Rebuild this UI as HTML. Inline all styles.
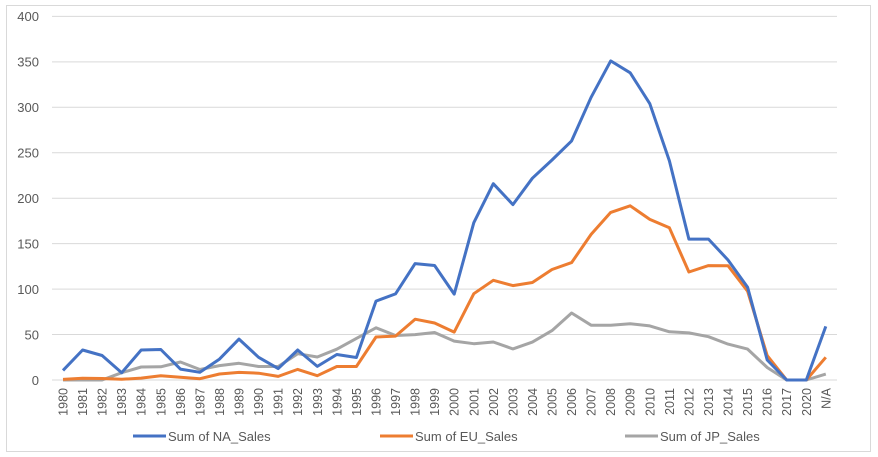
<!DOCTYPE html>
<html><head><meta charset="utf-8"><style>
body{margin:0;background:#fff;}
svg{display:block;font-family:"Liberation Sans",sans-serif;}
</style></head><body>
<svg id="c" width="878" height="457" viewBox="0 0 878 457" xmlns="http://www.w3.org/2000/svg">
<rect x="6.5" y="5.5" width="864" height="446" fill="#fff" stroke="#d9d9d9"/>
<g id="grid" stroke="#d9d9d9" stroke-width="1"></g>
<g font-size="13" fill="#595959" text-anchor="end">
<text x="39" y="21">400</text><text x="39" y="66.5">350</text><text x="39" y="112">300</text>
<text x="39" y="157.5">250</text><text x="39" y="203">200</text><text x="39" y="248.5">150</text>
<text x="39" y="294">100</text><text x="39" y="339.5">50</text><text x="39" y="385">0</text>
</g>
<g id="xl" font-size="12.5" fill="#595959"></g>
<polyline id="jp" fill="none" stroke="#a5a5a5" stroke-width="3" stroke-linejoin="round"/>
<polyline id="eu" fill="none" stroke="#ff7f0e" stroke-width="3" stroke-linejoin="round" style="stroke:#ed7d31"/>
<polyline id="na" fill="none" stroke="#4472c4" stroke-width="3" stroke-linejoin="round"/>
<g font-size="13" fill="#595959">
<line x1="133" y1="436" x2="166" y2="436" stroke="#4472c4" stroke-width="3"/><text x="168" y="441">Sum of NA_Sales</text>
<line x1="380" y1="436" x2="413" y2="436" stroke="#ed7d31" stroke-width="3"/><text x="415" y="441">Sum of EU_Sales</text>
<line x1="625" y1="436" x2="658" y2="436" stroke="#a5a5a5" stroke-width="3"/><text x="660" y="441">Sum of JP_Sales</text>
</g>
</svg>
<script>
var cats=[];for(var y=1980;y<=2017;y++)cats.push(""+y);cats.push("2020");cats.push("N/A");
var NA=[10.6,33,27,8,33,33.5,12,8.5,23,45,25,12.5,33,15,28,24.8,86.8,94.7,128,126,94.5,173,216,193,222,242,263,311,351,338,304,241,155,155,132,102,22,0,0,59];
var EU=[0.7,1.9,1.6,0.8,2.1,4.7,3,1.4,6.6,8.4,7.5,4,11.7,4.7,14.9,14.9,47.3,48.3,66.9,62.7,52.7,94.9,109.7,103.8,107.3,121.6,129.2,160.2,184.4,191.6,176.7,167.4,118.8,125.8,125.7,97.7,26.8,0,0,25];
var JP=[0,0,0,8,14.3,14.5,19.8,11.6,15.8,18.4,14.9,14.8,28.9,25.3,33.9,45.8,57.4,48.9,50,52.3,42.8,39.9,41.8,34.2,41.7,54.3,73.7,60.3,60.3,61.9,59.5,53,51.8,47.6,39.5,34,13.7,0,0,6.5];
var ns="http://www.w3.org/2000/svg";
function X(i){return 63+i*19.56;}function Y(v){return 380-v*0.909;}
var g=document.getElementById("grid");
for(var k=0;k<=8;k++){var l=document.createElementNS(ns,"line");var yy=Y(k*50);l.setAttribute("x1",52);l.setAttribute("x2",837);l.setAttribute("y1",yy);l.setAttribute("y2",yy);g.appendChild(l);}
var xl=document.getElementById("xl");
cats.forEach(function(c,i){var t=document.createElementNS(ns,"text");t.setAttribute("transform","translate("+(X(i)+4.5)+",388) rotate(-90)");t.setAttribute("text-anchor","end");t.textContent=c;xl.appendChild(t);});
function pts(a){return a.map(function(v,i){return X(i).toFixed(1)+","+Y(v).toFixed(1);}).join(" ");}
document.getElementById("na").setAttribute("points",pts(NA));
document.getElementById("eu").setAttribute("points",pts(EU));
document.getElementById("jp").setAttribute("points",pts(JP));
</script>
</body></html>
